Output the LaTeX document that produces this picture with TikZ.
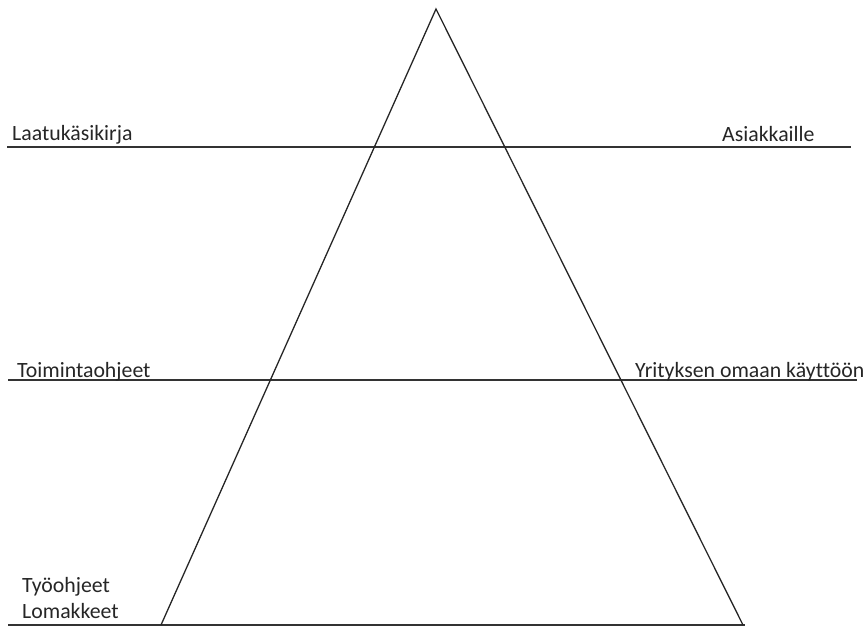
\documentclass[tikz,border=0pt]{standalone}
\usepackage{fontspec}
\setmainfont[Ligatures={NoCommon}]{Carlito}
\begin{document}
\begin{tikzpicture}[x=1pt,y=-1pt,
  rule/.style={draw=black!80,line width=1.4pt},
  edge/.style={draw=black!85,line width=1.3pt,line join=miter},
  lbl/.style={anchor=base west,inner sep=0pt,text=black!85,font=\fontsize{21.8}{26}\selectfont}]
\useasboundingbox (0,0) rectangle (864,628);
% triangle corners
\coordinate (apex) at (436,9);
\coordinate (bl) at (161,625);
\coordinate (br) at (743,625);
% horizontal rules
\coordinate (r1a) at (7,147);
\coordinate (r1b) at (851,147);
\coordinate (r2a) at (8,380);
\coordinate (r2b) at (857,380);
\coordinate (r3a) at (8,625);
\coordinate (r3b) at (745,625);
\draw[rule] (r1a) -- (r1b);
\draw[rule] (r2a) -- (r2b);
\draw[rule] (r3a) -- (r3b);
\draw[edge] (bl) -- (apex) -- (br);
% labels
\node[lbl] (l1) at (12,141) {Laatukäsikirja};
\node[lbl] (l2) at (722,142) {Asiakkaille};
\node[lbl] (l3) at (17,377) {Toimintaohjeet};
\node[lbl] (l4) at (635,377) {Yrityksen omaan käyttöön};
\node[lbl] (l5) at (22,592) {Työohjeet};
\node[lbl] (l6) at (22,618) {Lomakkeet};
\end{tikzpicture}
\end{document}
